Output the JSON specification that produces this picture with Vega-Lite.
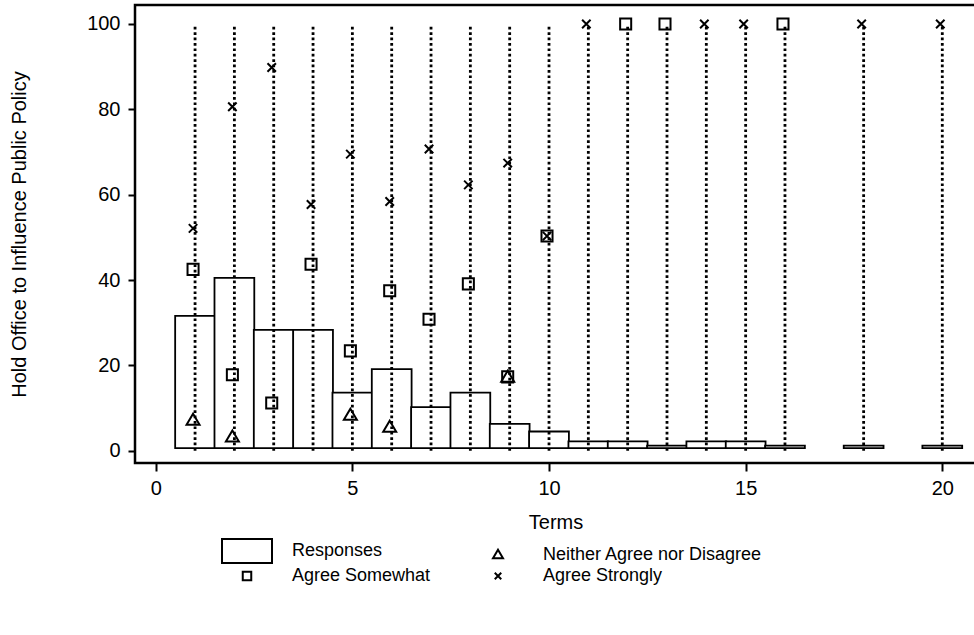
{
  "$schema": "https://vega.github.io/schema/vega-lite/v6.json",
  "autosize": {"type": "none"},
  "padding": {"left": 135, "top": 5, "right": 0, "bottom": 172},
  "width": 841,
  "height": 458,
  "background": "white",
  "config": {
    "view": {"stroke": "black", "strokeWidth": 2.5},
    "font": "Liberation Sans",
    "axis": {
      "domain": false, "grid": false,
      "labelFont": "Liberation Sans", "labelFontSize": 20, "labelColor": "black",
      "titleFont": "Liberation Sans", "titleFontSize": 20, "titleFontWeight": "normal", "titleColor": "black",
      "tickColor": "black", "tickWidth": 2
    },
    "legend": {
      "orient": "none",
      "direction": "horizontal",
      "legendX": 79,
      "legendY": 537,
      "columns": 2,
      "padding": 0,
      "columnPadding": 34,
      "rowPadding": 0,
      "labelFont": "Liberation Sans",
      "labelFontSize": 18,
      "labelColor": "black",
      "labelLimit": 400,
      "symbolSize": 100,
      "symbolStrokeWidth": 2,
      "symbolStrokeColor": "black",
      "symbolOffset": 24,
      "labelOffset": 36
    }
  },
  "datasets": {
    "terms": [
      {"term": 1, "responses": 31.6},
      {"term": 2, "responses": 40.5},
      {"term": 3, "responses": 28.3},
      {"term": 4, "responses": 28.3},
      {"term": 5, "responses": 13.6},
      {"term": 6, "responses": 19.1},
      {"term": 7, "responses": 10.2},
      {"term": 8, "responses": 13.6},
      {"term": 9, "responses": 6.3},
      {"term": 10, "responses": 4.5},
      {"term": 11, "responses": 2.2},
      {"term": 12, "responses": 2.2},
      {"term": 13, "responses": 1.2},
      {"term": 14, "responses": 2.2},
      {"term": 15, "responses": 2.2},
      {"term": 16, "responses": 1.2},
      {"term": 18, "responses": 1.2},
      {"term": 20, "responses": 1.2}
    ],
    "points": [
      {"term": 1, "series": "Neither Agree nor Disagree", "value": 7.2},
      {"term": 2, "series": "Neither Agree nor Disagree", "value": 3.3},
      {"term": 5, "series": "Neither Agree nor Disagree", "value": 8.4},
      {"term": 6, "series": "Neither Agree nor Disagree", "value": 5.6},
      {"term": 9, "series": "Neither Agree nor Disagree", "value": 17.3},
      {"term": 1, "series": "Agree Somewhat", "value": 42.5},
      {"term": 2, "series": "Agree Somewhat", "value": 17.8},
      {"term": 3, "series": "Agree Somewhat", "value": 11.2},
      {"term": 4, "series": "Agree Somewhat", "value": 43.7},
      {"term": 5, "series": "Agree Somewhat", "value": 23.4},
      {"term": 6, "series": "Agree Somewhat", "value": 37.5},
      {"term": 7, "series": "Agree Somewhat", "value": 30.8},
      {"term": 8, "series": "Agree Somewhat", "value": 39.1},
      {"term": 9, "series": "Agree Somewhat", "value": 17.3},
      {"term": 10, "series": "Agree Somewhat", "value": 50.3},
      {"term": 12, "series": "Agree Somewhat", "value": 100},
      {"term": 13, "series": "Agree Somewhat", "value": 100},
      {"term": 16, "series": "Agree Somewhat", "value": 100},
      {"term": 1, "series": "Agree Strongly", "value": 52.1},
      {"term": 2, "series": "Agree Strongly", "value": 80.6},
      {"term": 3, "series": "Agree Strongly", "value": 89.8},
      {"term": 4, "series": "Agree Strongly", "value": 57.7},
      {"term": 5, "series": "Agree Strongly", "value": 69.5},
      {"term": 6, "series": "Agree Strongly", "value": 58.4},
      {"term": 7, "series": "Agree Strongly", "value": 70.7},
      {"term": 8, "series": "Agree Strongly", "value": 62.3},
      {"term": 9, "series": "Agree Strongly", "value": 67.4},
      {"term": 10, "series": "Agree Strongly", "value": 50.3},
      {"term": 11, "series": "Agree Strongly", "value": 100},
      {"term": 14, "series": "Agree Strongly", "value": 100},
      {"term": 15, "series": "Agree Strongly", "value": 100},
      {"term": 18, "series": "Agree Strongly", "value": 100},
      {"term": 20, "series": "Agree Strongly", "value": 100}
    ]
  },
  "layer": [
    {
      "data": {"name": "terms"},
      "mark": {"type": "bar", "width": 39.8, "fill": "white", "stroke": "black", "strokeWidth": 1.8},
      "encoding": {
        "x": {
          "field": "term", "type": "quantitative", "title": "Terms",
          "scale": {"domain": [-0.4, 20.73], "nice": false, "zero": false},
          "axis": {"values": [0, 5, 10, 15, 20], "tickSize": 8, "labelPadding": 7, "titlePadding": 14}
        },
        "y": {
          "field": "responses", "type": "quantitative", "title": "Hold Office to Influence Public Policy",
          "scale": {"domain": [-2.88, 104.45], "nice": false, "zero": false},
          "axis": {"values": [0, 20, 40, 60, 80, 100], "tickSize": 7, "labelPadding": 8, "titlePadding": 57}
        },
        "y2": {"datum": 0.6}
      }
    },
    {
      "data": {"name": "terms"},
      "mark": {"type": "rule", "color": "black", "strokeWidth": 2.8, "strokeDash": [2.7, 2.7]},
      "encoding": {
        "x": {"field": "term", "type": "quantitative", "title": "Terms"},
        "y": {"datum": 0, "type": "quantitative", "title": "Hold Office to Influence Public Policy"},
        "y2": {"datum": 100}
      }
    },
    {
      "data": {"name": "points"},
      "mark": {"type": "point", "filled": false, "stroke": "black", "strokeWidth": 2, "size": 169, "xOffset": -2, "opacity": 1},
      "encoding": {
        "x": {"field": "term", "type": "quantitative", "title": "Terms"},
        "y": {"field": "value", "type": "quantitative", "title": "Hold Office to Influence Public Policy"},
        "shape": {
          "field": "series", "type": "nominal",
          "scale": {
            "domain": ["Responses", "Neither Agree nor Disagree", "Agree Somewhat", "Agree Strongly"],
            "range": [
              "M-5,-2.4H5V2.4H-5Z",
              "M0,-0.95L1,0.75L-1,0.75Z",
              "M-0.85,-0.85H0.85V0.85H-0.85Z",
              "M-0.65,-0.65L0.65,0.65M0.65,-0.65L-0.65,0.65"
            ]
          },
          "legend": {"title": null}
        }
      }
    }
  ]
}
